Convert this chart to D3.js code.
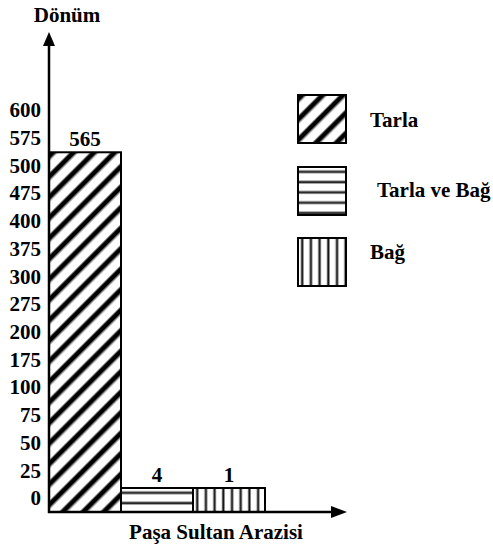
<!DOCTYPE html>
<html>
<head>
<meta charset="utf-8">
<script src="https://cdn.jsdelivr.net/npm/d3@7/dist/d3.min.js"></script>
<style>
  html, body { margin: 0; padding: 0; background: #fff; }
  svg text { font-family: "Liberation Serif", "Times New Roman", "DejaVu Serif", serif; font-weight: bold; fill: #000; }
</style>
</head>
<body>
<svg id="chart" width="493" height="550"></svg>
<script>
// ---- data ----
const categories = ["Tarla", "Tarla ve Bağ", "Bağ"];
const values = [565, 4, 1];
const patternTypes = ["diag", "horiz", "vert"];
const yTickLabels = ["600", "575", "500", "475", "400", "375", "300", "275", "200", "175", "100", "75", "50", "25", "0"];
const yTitle = "Dönüm";
const xTitle = "Paşa Sultan Arazisi";

// ---- layout ----
const svg = d3.select("#chart");
const x0 = 49, baseY = 512, xEnd = 265;
const minBarH = 24;
const FS = 21;

const x = d3.scaleBand().domain(categories).range([x0, xEnd]).padding(0);
const y = d3.scaleLinear().domain([0, 600]).range([baseY, 130]);
const yLab = d3.scalePoint().domain(yTickLabels).range([110, 498]);

const defs = svg.append("defs");
function makePattern(id, type, ox, oy) {
  const p = defs.append("pattern").attr("id", id).attr("patternUnits", "userSpaceOnUse");
  if (type === "diag") {
    p.attr("width", 14.5).attr("height", 14.5)
     .attr("patternTransform", `translate(${ox},${oy}) rotate(45)`);
    p.append("rect").attr("width", 14.5).attr("height", 14.5).attr("fill", "#fff");
    p.append("line").attr("x1", 3).attr("x2", 3).attr("y1", 0).attr("y2", 14.5)
     .attr("stroke", "#777").attr("stroke-width", 6.5);
    p.append("line").attr("x1", 3).attr("x2", 3).attr("y1", 0).attr("y2", 14.5)
     .attr("stroke", "#000").attr("stroke-width", 4);
  } else if (type === "horiz") {
    p.attr("width", 10).attr("height", 10.3).attr("x", ox).attr("y", oy);
    p.append("rect").attr("width", 10).attr("height", 10.3).attr("fill", "#fff");
    p.append("line").attr("x1", 0).attr("x2", 10).attr("y1", 4.8).attr("y2", 4.8)
     .attr("stroke", "#999").attr("stroke-width", 3.5);
    p.append("line").attr("x1", 0).attr("x2", 10).attr("y1", 4.8).attr("y2", 4.8)
     .attr("stroke", "#222").attr("stroke-width", 1.6);
  } else {
    p.attr("width", 8.7).attr("height", 10).attr("x", ox).attr("y", oy);
    p.append("rect").attr("width", 8.7).attr("height", 10).attr("fill", "#fff");
    p.append("line").attr("y1", 0).attr("y2", 10).attr("x1", 4.2).attr("x2", 4.2)
     .attr("stroke", "#999").attr("stroke-width", 3.2);
    p.append("line").attr("y1", 0).attr("y2", 10).attr("x1", 4.2).attr("x2", 4.2)
     .attr("stroke", "#111").attr("stroke-width", 1.6);
  }
  return `url(#${id})`;
}

// ---- bars ----
const barTop = v => Math.min(y(v), baseY - minBarH);
categories.forEach((c, i) => {
  const bx = x(c), bw = x.bandwidth(), by = barTop(values[i]);
  const fill = makePattern("bar" + i, patternTypes[i], bx, by);
  svg.append("rect").attr("x", bx).attr("y", by).attr("width", bw).attr("height", baseY - by)
    .attr("fill", fill).attr("stroke", "#000").attr("stroke-width", 2);
  svg.append("text").attr("x", bx + bw / 2).attr("y", by - 6)
    .attr("text-anchor", "middle").attr("font-size", FS).text(values[i]);
});

// ---- axes ----
svg.append("line").attr("x1", x0).attr("x2", x0).attr("y1", baseY + 1).attr("y2", 45)
  .attr("stroke", "#000").attr("stroke-width", 2.5);
svg.append("path").attr("d", `M${x0 - 6},46 L${x0},32 L${x0 + 6},46 Z`).attr("fill", "#000");
svg.append("line").attr("x1", x0 - 1).attr("x2", 333).attr("y1", baseY).attr("y2", baseY)
  .attr("stroke", "#000").attr("stroke-width", 2.5);
svg.append("path").attr("d", `M331,${baseY - 6} L347,${baseY} L331,${baseY + 6} Z`).attr("fill", "#000");

svg.selectAll(".ylab").data(yTickLabels).join("text").attr("class", "ylab")
  .attr("x", 41).attr("y", d => yLab(d)).attr("dy", "0.35em")
  .attr("text-anchor", "end").attr("font-size", FS).text(d => d);

svg.append("text").attr("x", 67).attr("y", 22).attr("text-anchor", "middle")
  .attr("font-size", FS).text(yTitle);
svg.append("text").attr("x", 216).attr("y", 539).attr("text-anchor", "middle")
  .attr("font-size", FS).text(xTitle);

// ---- legend ----
const legY = [95, 167, 238];
const legTextX = [370, 377, 370];
const legTextY = [120, 190, 252];
categories.forEach((c, i) => {
  const fill = makePattern("leg" + i, patternTypes[i], 298, legY[i]);
  svg.append("rect").attr("x", 298).attr("y", legY[i]).attr("width", 48).attr("height", 48)
    .attr("fill", fill).attr("stroke", "#000").attr("stroke-width", 2);
  svg.append("text").attr("x", legTextX[i]).attr("y", legTextY[i]).attr("dy", "0.35em")
    .attr("font-size", FS).text(c);
});
</script>
</body>
</html>
